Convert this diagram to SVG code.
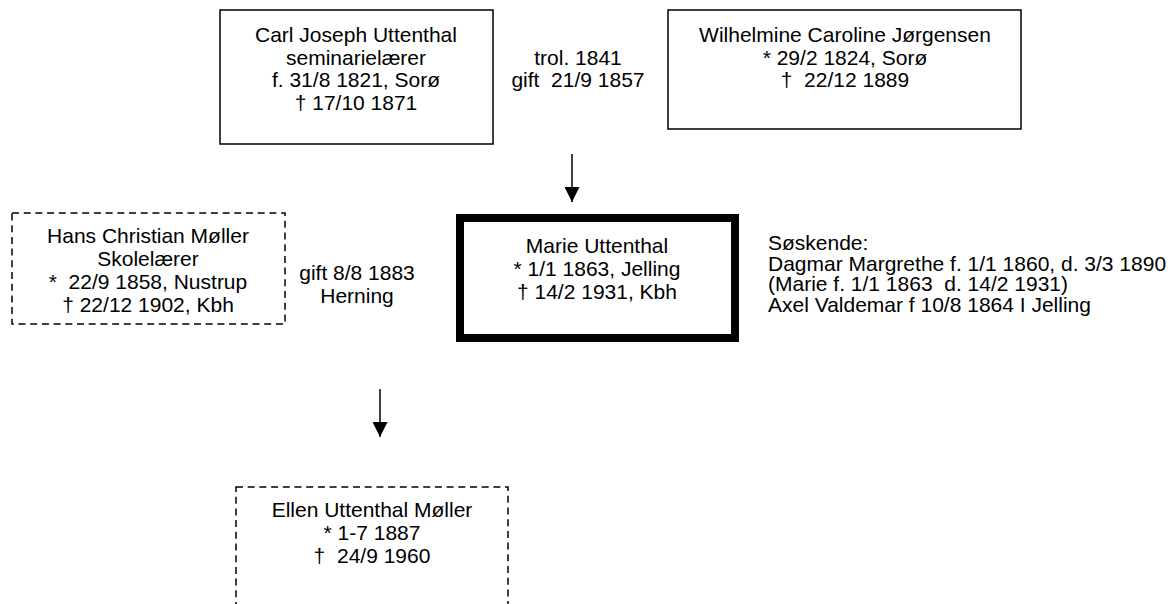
<svg xmlns="http://www.w3.org/2000/svg" width="1175" height="604" viewBox="0 0 1175 604">
  <style>
    text { font-family: "Liberation Sans", Arial, sans-serif; font-size: 21px; fill: #000; }
    .c { text-anchor: middle; }
    .solid { fill: #fff; stroke: #000; stroke-width: 1.5; }
    .dashed { fill: #fff; stroke: #000; stroke-width: 1.5; stroke-dasharray: 7 4.7; }
    .thick { fill: #fff; stroke: #000; stroke-width: 8; }
    .conn { stroke: #000; stroke-width: 1.5; fill: none; marker-end: url(#arrow); }
  </style>
  <defs>
    <marker id="arrow" markerUnits="userSpaceOnUse" markerWidth="15" markerHeight="15" refX="15" refY="7.5" orient="auto">
      <path d="M0,0 L15,7.5 L0,15 z" fill="#000"/>
    </marker>
  </defs>
  <rect width="1175" height="604" fill="#fff"/>

  <g id="connectors">
    <line class="conn" x1="572" y1="154" x2="572" y2="202"/>
    <line class="conn" x1="380" y1="389" x2="380" y2="437"/>
  </g>

  <g id="node-carl">
    <rect class="solid" x="220" y="10" width="273" height="134"/>
    <text class="c" x="356" y="42">Carl Joseph Uttenthal</text>
    <text class="c" x="356" y="65">seminarielærer</text>
    <text class="c" x="356" y="87">f. 31/8 1821, Sorø</text>
    <text class="c" x="356" y="110">† 17/10 1871</text>
  </g>

  <g id="label-trol">
    <text class="c" x="578" y="65">trol. 1841</text>
    <text class="c" x="578" y="87" xml:space="preserve">gift  21/9 1857</text>
  </g>

  <g id="node-wilhelmine">
    <rect class="solid" x="668" y="10" width="353" height="119"/>
    <text class="c" x="845" y="42">Wilhelmine Caroline Jørgensen</text>
    <text class="c" x="845" y="65">* 29/2 1824, Sorø</text>
    <text class="c" x="845" y="87" xml:space="preserve">†  22/12 1889</text>
  </g>

  <g id="node-hans">
    <rect class="dashed" x="12" y="213" width="273" height="111"/>
    <text class="c" x="148" y="243">Hans Christian Møller</text>
    <text class="c" x="148" y="266">Skolelærer</text>
    <text class="c" x="148" y="289" xml:space="preserve">*  22/9 1858, Nustrup</text>
    <text class="c" x="148" y="312">† 22/12 1902, Kbh</text>
  </g>

  <g id="label-gift">
    <text class="c" x="357" y="280">gift 8/8 1883</text>
    <text class="c" x="357" y="303">Herning</text>
  </g>

  <g id="node-marie">
    <rect class="thick" x="460" y="218" width="275" height="120"/>
    <text class="c" x="597" y="253">Marie Uttenthal</text>
    <text class="c" x="597" y="276">* 1/1 1863, Jelling</text>
    <text class="c" x="597" y="299">† 14/2 1931, Kbh</text>
  </g>

  <g id="label-soskende">
    <text x="768" y="250">Søskende:</text>
    <text x="768" y="271">Dagmar Margrethe f. 1/1 1860, d. 3/3 1890</text>
    <text x="768" y="291" xml:space="preserve">(Marie f. 1/1 1863  d. 14/2 1931)</text>
    <text x="768" y="312">Axel Valdemar f 10/8 1864 I Jelling</text>
  </g>

  <g id="node-ellen">
    <rect class="dashed" x="236" y="487" width="272" height="140"/>
    <text class="c" x="372" y="517">Ellen Uttenthal Møller</text>
    <text class="c" x="372" y="540">* 1-7 1887</text>
    <text class="c" x="372" y="563" xml:space="preserve">†  24/9 1960</text>
  </g>
</svg>
